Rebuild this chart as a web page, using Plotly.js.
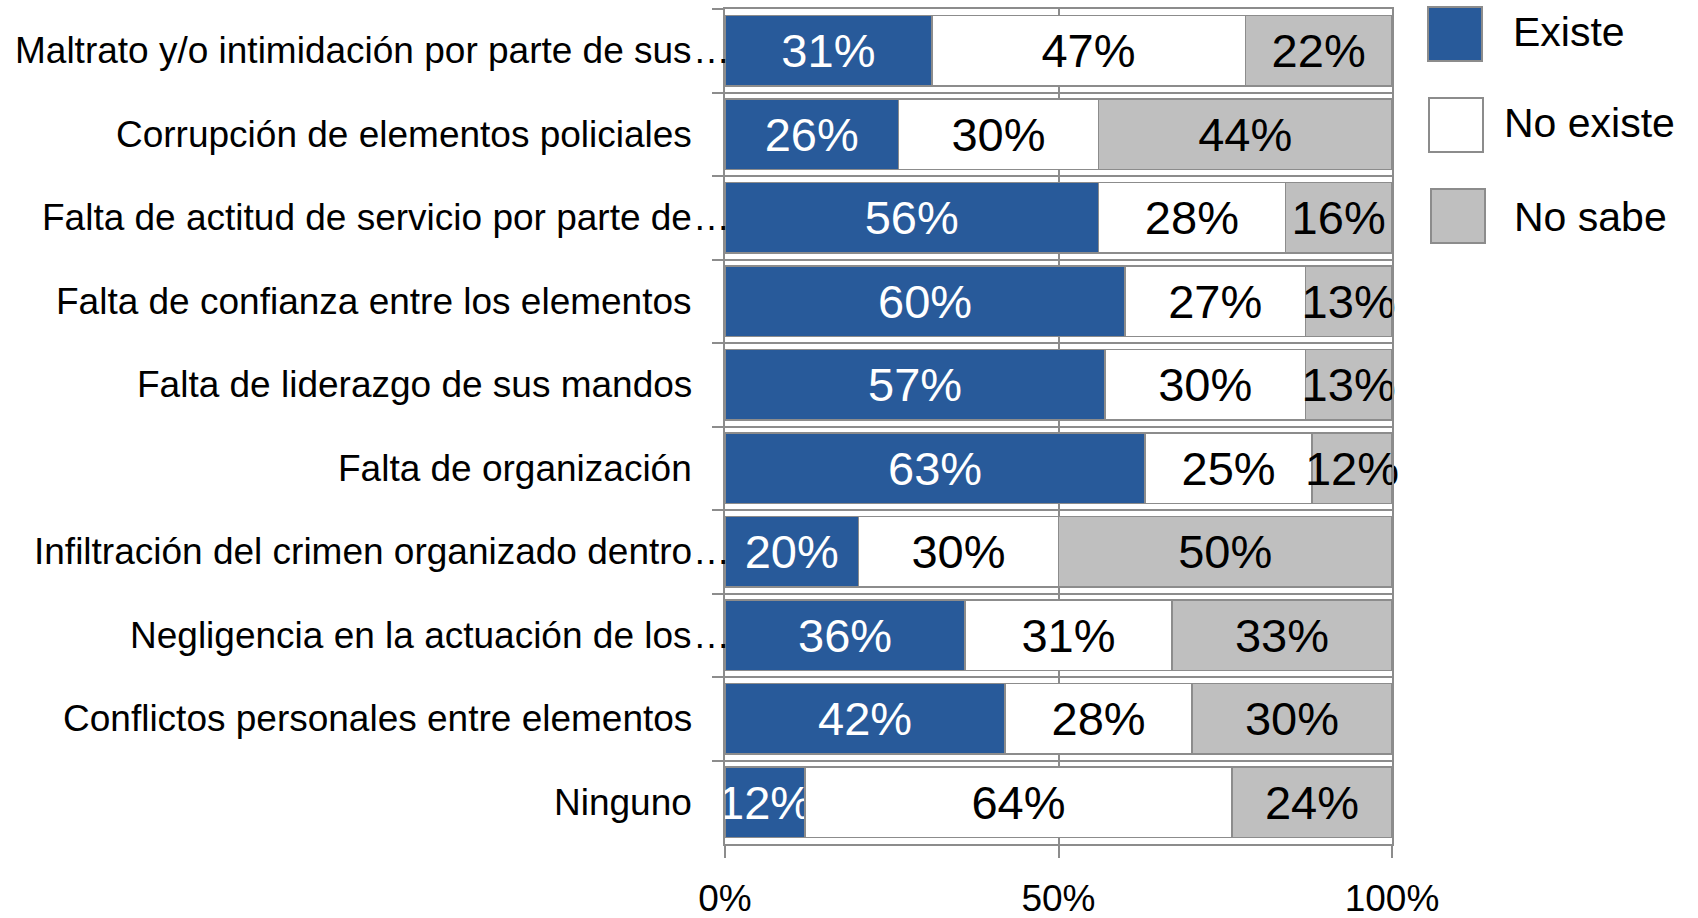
<!DOCTYPE html>
<html>
<head>
<meta charset="utf-8">
<script src="https://cdn.plot.ly/plotly-3.0.1.min.js"></script>
<style>
  html, body { margin: 0; padding: 0; background: #ffffff; }
  #chart { width: 1698px; height: 918px; }
</style>
</head>
<body>
<div id="chart"></div>
<script>
// Problem categories, top to bottom
const categories = [
  "Maltrato y/o intimidación por parte de sus…",
  "Corrupción de elementos policiales",
  "Falta de actitud de servicio por parte de…",
  "Falta de confianza entre los elementos",
  "Falta de liderazgo de sus mandos",
  "Falta de organización",
  "Infiltración del crimen organizado dentro…",
  "Negligencia en la actuación de los…",
  "Conflictos personales entre elementos",
  "Ninguno"
];

// Share of answers per category (%)
const existe   = [31, 26, 56, 60, 57, 63, 20, 36, 42, 12];
const noExiste = [47, 30, 28, 27, 30, 25, 30, 31, 28, 64];
const noSabe   = [22, 44, 16, 13, 13, 12, 50, 33, 30, 24];

const seriesNames = ["Existe", "No existe", "No sabe"];

const xTickVals = [0, 50, 100];
const xTickText = ["0%", "50%", "100%"];

// Styling
const FONT = "Liberation Sans, Arial, Helvetica, sans-serif";
const fills = ["#285a9a", "#ffffff", "#bfbfbf"];
const labelColors = ["#ffffff", "#000000", "#000000"];
const edge = "#8c8c8c";

const seriesValues = [existe, noExiste, noSabe];

const traces = seriesValues.map((vals, i) => ({
  type: "bar",
  orientation: "h",
  name: seriesNames[i],
  y: categories,
  x: vals,
  marker: { color: fills[i], line: { color: edge, width: 1.5 } },
  text: vals.map(v => v + "%"),
  textposition: "inside",
  insidetextanchor: "middle",
  textangle: 0,
  constraintext: "none",
  textfont: { family: FONT, size: 47, color: labelColors[i] },
  cliponaxis: false,
  hoverinfo: "skip",
  showlegend: false
}));

// Category labels: right-aligned text, a trailing ellipsis hangs past the edge
const annotations = [];
categories.forEach(c => {
  const cut = c.endsWith("…");
  annotations.push({
    xref: "paper", yref: "y", x: 0, y: c,
    xanchor: "right", yanchor: "middle", xshift: -31,
    text: cut ? c.slice(0, -1) : c,
    showarrow: false,
    font: { family: FONT, size: 37, color: "#000000" }
  });
  if (cut) {
    annotations.push({
      xref: "paper", yref: "y", x: 0, y: c,
      xanchor: "left", yanchor: "middle", xshift: -34,
      text: "…",
      showarrow: false,
      font: { family: FONT, size: 37, color: "#000000" }
    });
  }
});

// Legend drawn as large swatches with labels to the right of the plot
const legendBox = [
  { x0: 36, top: 2, tx: 119, ty: -23 },
  { x0: 37, top: -89, tx: 110, ty: -114 },
  { x0: 39, top: -180, tx: 120, ty: -208 }
];
const shapes = seriesNames.map((n, i) => ({
  type: "rect",
  xref: "paper", yref: "paper",
  xsizemode: "pixel", ysizemode: "pixel",
  xanchor: 1, yanchor: 1,
  x0: legendBox[i].x0, x1: legendBox[i].x0 + 54,
  y0: legendBox[i].top - 54, y1: legendBox[i].top,
  fillcolor: fills[i],
  line: { color: edge, width: 2 }
}));
seriesNames.forEach((n, i) => {
  annotations.push({
    xref: "paper", yref: "paper", x: 1, y: 1,
    xanchor: "left", yanchor: "middle",
    xshift: legendBox[i].tx, yshift: legendBox[i].ty,
    text: n, showarrow: false,
    font: { family: FONT, size: 41, color: "#000000" }
  });
});

const layout = {
  width: 1698,
  height: 918,
  margin: { l: 725, r: 305.5, t: 9, b: 74, pad: 0 },
  paper_bgcolor: "#ffffff",
  plot_bgcolor: "#ffffff",
  barmode: "stack",
  bargap: 0.16,
  showlegend: false,
  font: { family: FONT, size: 37, color: "#000000" },
  xaxis: {
    range: [0, 100],
    tickvals: xTickVals,
    ticktext: xTickText,
    ticks: "outside",
    ticklen: 12,
    tickwidth: 2,
    tickcolor: edge,
    ticklabelstandoff: 9,
    tickfont: { family: FONT, size: 37, color: "#000000" },
    showgrid: true,
    gridcolor: edge,
    gridwidth: 2,
    showline: true,
    linecolor: edge,
    linewidth: 2,
    mirror: true,
    zeroline: false,
    automargin: false,
    fixedrange: true
  },
  yaxis: {
    type: "category",
    autorange: "reversed",
    tickson: "boundaries",
    ticks: "outside",
    ticklen: 11,
    tickwidth: 2,
    tickcolor: edge,
    showticklabels: false,
    showgrid: true,
    gridcolor: edge,
    gridwidth: 2,
    showline: true,
    linecolor: edge,
    linewidth: 2,
    mirror: true,
    zeroline: false,
    fixedrange: true
  },
  shapes: shapes,
  annotations: annotations
};

Plotly.newPlot("chart", traces, layout, { displayModeBar: false, staticPlot: true });
</script>
</body>
</html>
